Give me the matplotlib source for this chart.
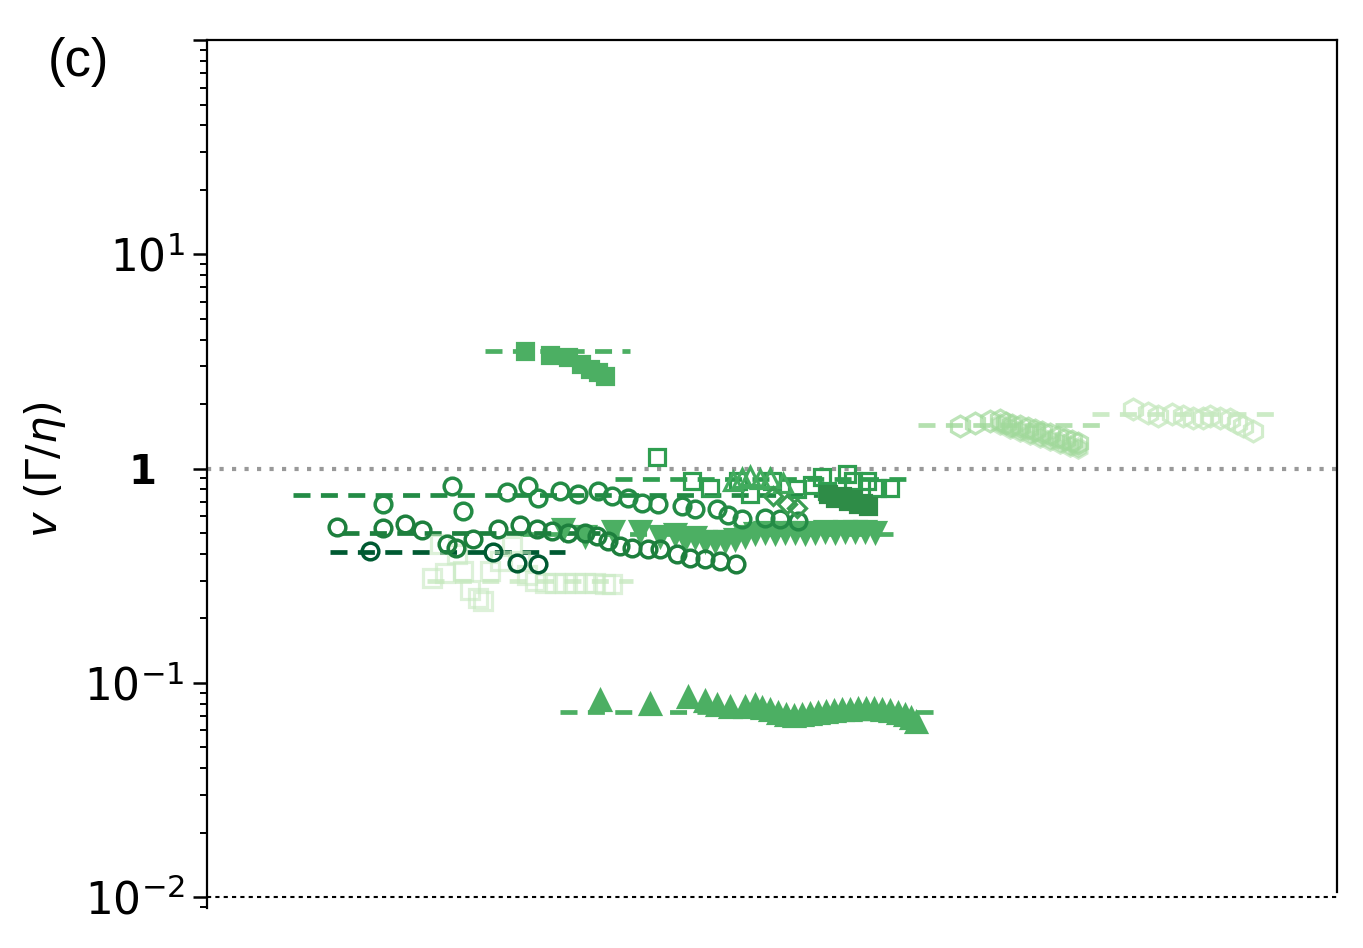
import matplotlib
matplotlib.use("Agg")
import matplotlib.pyplot as plt
from matplotlib.ticker import LogLocator, NullFormatter

plt.rcParams['font.family'] = ['DejaVu Sans']
plt.rcParams['mathtext.fontset'] = 'dejavusans'

# ---------------- data ----------------
# filled squares (high)
sqf_x = [31.8, 34.3, 36.1, 37.4, 38.3, 39.1, 39.8]
sqf_y = [3.52, 3.40, 3.30, 3.09, 2.93, 2.81, 2.69]
sqf_fit = (27.8, 42.3, 3.52)

# filled triangles up (low)
tru_x = [39.3, 44.3, 48.1, 49.8, 51.0, 52.3, 53.8, 54.8, 55.5, 56.3, 57.1, 57.9, 58.7,
         59.5, 60.3, 61.1, 61.9, 62.7, 63.5, 64.3, 65.1, 65.9, 66.7, 67.5, 68.3, 69.1,
         69.8, 70.4, 70.9]
tru_y = [0.0836, 0.0800, 0.0863, 0.0827, 0.0792, 0.0775, 0.0775, 0.0792, 0.0767, 0.0750,
         0.0727, 0.0711, 0.0704, 0.0711, 0.0719, 0.0727, 0.0735, 0.0743, 0.0750, 0.0750,
         0.0759, 0.0759, 0.0759, 0.0750, 0.0743, 0.0727, 0.0711, 0.0689, 0.0660]
tru_fit = (35.3, 72.8, 0.0735)

# filled triangles down
trd_x = [35.6, 37.8, 40.6, 43.3, 45.3, 46.8, 47.8, 48.8, 49.8, 50.8, 51.8, 52.8, 53.8,
         54.8, 55.8, 56.8, 57.8, 58.8, 59.8, 60.8, 61.8, 62.8, 63.8, 64.8, 65.8, 66.8]
trd_y = [0.525, 0.487, 0.514, 0.514, 0.487, 0.497, 0.471, 0.477, 0.461, 0.461, 0.461,
         0.471, 0.482, 0.503, 0.508, 0.503, 0.508, 0.508, 0.503, 0.508, 0.514, 0.508,
         0.514, 0.514, 0.514, 0.508]
trd_fit = (31.3, 68.6, 0.497)

# open circles, series a
ca_x = [17.6, 24.5, 25.6, 30.0, 32.1, 33.1, 35.3, 37.1, 39.1, 40.5, 42.1, 43.5, 45.1,
        47.5, 48.8, 51.0, 52.1, 53.5, 55.8, 57.3, 59.1]
ca_y = [0.687, 0.833, 0.637, 0.781, 0.833, 0.732, 0.789, 0.764, 0.789, 0.748, 0.732,
        0.694, 0.687, 0.672, 0.651, 0.651, 0.604, 0.584, 0.591, 0.584, 0.572]
ca_fit = (8.6, 63.0, 0.756)

# open circles, series b
cb_x = [13.0, 17.6, 19.8, 21.5, 24.0, 24.9, 26.6, 29.1, 31.3, 33.0, 34.5, 36.1, 37.8,
        39.0, 40.1, 41.3, 42.5, 44.1, 45.3, 47.0, 48.3, 49.8, 51.3, 52.9]
cb_y = [0.536, 0.530, 0.553, 0.519, 0.447, 0.428, 0.471, 0.525, 0.548, 0.525, 0.514,
        0.503, 0.503, 0.487, 0.461, 0.437, 0.428, 0.423, 0.423, 0.401, 0.384, 0.380,
        0.372, 0.360]
cb_fit = (13.5, 39.3, 0.503)

# open circles, series c
cc_x = [16.3, 28.6, 31.0, 33.1]
cc_y = [0.414, 0.406, 0.364, 0.360]
cc_fit = (12.3, 35.8, 0.406)

# open squares near 1
so_x = [45.0, 48.5, 50.3, 53.1, 54.3, 56.5, 59.0, 60.5, 61.5, 62.0, 64.0, 64.6, 66.0,
        67.0, 68.3]
so_y = [1.138, 0.879, 0.815, 0.879, 0.764, 0.879, 0.807, 0.842, 0.918, 0.789, 0.948,
        0.879, 0.879, 0.815, 0.815]
so_fit = (40.8, 70.3, 0.898)

# filled dark squares
sd_x = [62.1, 62.8, 63.5, 64.1, 64.6, 65.1, 65.6, 66.1]
sd_y = [0.764, 0.732, 0.748, 0.709, 0.724, 0.687, 0.694, 0.672]

# open triangles up and open diamonds
tuo_x = [52.6, 53.5, 54.3, 55.3, 56.3, 57.6]
tuo_y = [0.879, 0.908, 0.928, 0.898, 0.908, 0.860]
dmo_x = [56.6, 58.0, 59.0]
dmo_y = [0.748, 0.687, 0.658]

# light open squares
sl_x = [22.5, 23.3, 23.8, 25.0, 25.6, 26.3, 27.1, 27.6, 28.3, 29.3, 30.5, 31.3, 32.0,
        32.8, 33.8, 34.8, 35.8, 36.8, 37.8, 38.8, 39.8, 40.5]
sl_y = [0.310, 0.447, 0.327, 0.401, 0.334, 0.270, 0.250, 0.242, 0.334, 0.372, 0.437,
        0.372, 0.317, 0.300, 0.291, 0.291, 0.291, 0.294, 0.291, 0.291, 0.288, 0.288]
sl_fit = (22.0, 42.6, 0.300)

# hexagons a
ha_x = [75.3, 76.8, 78.3, 79.3, 79.9, 80.5, 81.3, 82.1, 82.8, 83.5, 84.3, 85.1, 85.8,
        86.5, 87.1]
ha_y = [1.587, 1.639, 1.675, 1.693, 1.639, 1.604, 1.587, 1.553, 1.520, 1.488, 1.457,
        1.411, 1.380, 1.351, 1.322]
ha_fit = (71.1, 89.6, 1.604)
hb2_x = [79.3, 80.3, 81.3, 82.3, 83.3, 84.3, 85.3, 86.3, 87.1]
hb2_y = [1.622, 1.553, 1.504, 1.457, 1.411, 1.366, 1.322, 1.280, 1.253]

# hexagons b
hb_x = [92.6, 94.1, 95.1, 96.5, 97.6, 98.6, 99.6, 100.3, 101.3, 102.3, 103.0, 103.6, 104.6]
hb_y = [1.905, 1.826, 1.768, 1.806, 1.768, 1.730, 1.730, 1.768, 1.730, 1.711, 1.639,
        1.587, 1.504]
hb_fit = (88.5, 107.5, 1.806)

# ---------------- figure ----------------
fig = plt.figure(figsize=(13.63, 9.48), dpi=100)
ax = fig.add_axes([207/1363, 1-908/948, 1130/1363, 868/948])
ax.set_yscale('log')
ax.set_xlim(0, 113)
ax.set_ylim(0.0089, 100)

dash = (0, (3.6, 2.2))
LW = 3.4

def fitline(fit, color, alpha=1.0, z=1):
    ax.plot([fit[0], fit[1]], [fit[2], fit[2]], ls=dash, lw=LW, color=color,
            alpha=alpha, zorder=z, dash_capstyle='butt')

def pts(x, y, marker, color, filled=False, ms=11.5, mew=2.3, alpha=1.0, z=3):
    ax.plot(x, y, ls='none', marker=marker, ms=ms, mew=mew,
            mfc=color if filled else 'none', mec=color, alpha=alpha, zorder=z)

ax.axhline(1.0, color='#999999', ls=(0, (1, 2)), lw=3, zorder=0.5)

c_med = '#4caf63'
c_a = '#238b45'
c_b = '#1d7f3d'
c_c = '#005a32'
c_sq = '#2f9e50'
c_sd = '#2e8c47'
c_light = '#c7e9c0'
c_hexa = '#a1d99b'
c_hexb = '#c7e9c0'

# light squares
fitline(sl_fit, c_light, alpha=0.8, z=1)
pts(sl_x, sl_y, 's', c_light, ms=12.5, mew=2.3, alpha=0.6, z=2)

fitline(sqf_fit, c_med)
pts(sqf_x, sqf_y, 's', c_med, filled=True, ms=12)

fitline(tru_fit, c_med)
pts(tru_x, tru_y, '^', c_med, filled=True, ms=14)

fitline(trd_fit, c_med)
pts(trd_x, trd_y, 'v', c_med, filled=True, ms=14)

fitline(ca_fit, c_a)
pts(ca_x, ca_y, 'o', c_a, ms=12, mew=2.5)

fitline(cb_fit, c_b)
pts(cb_x, cb_y, 'o', c_b, ms=12, mew=2.5)

fitline(cc_fit, c_c)
pts(cc_x, cc_y, 'o', c_c, ms=12, mew=2.5)

fitline(so_fit, c_sq)
pts(so_x, so_y, 's', c_sq, ms=11.5, mew=2.3)
pts(sd_x, sd_y, 's', c_sd, filled=True, ms=11.5)
pts(tuo_x, tuo_y, '^', '#41ab5d', ms=13, mew=2.3)
pts(dmo_x, dmo_y, 'D', '#3a9d52', ms=9.5, mew=2.3)

fitline(ha_fit, c_hexa, alpha=0.8)
pts(ha_x, ha_y, 'h', c_hexa, ms=15, mew=2.3, alpha=0.7)
pts(hb2_x, hb2_y, 'h', c_hexa, filled=True, ms=14, mew=2.3, alpha=0.5)

fitline(hb_fit, c_hexb, alpha=0.9)
pts(hb_x, hb_y, 'h', c_hexb, ms=15, mew=2.3, alpha=0.8)

# bottom dotted line
ax.axhline(0.01, color='black', ls=(0, (2, 2)), lw=1.5, zorder=0.5, clip_on=False)

# spines
for s in ['left', 'right', 'top']:
    ax.spines[s].set_linewidth(1.6)
ax.spines['bottom'].set_visible(False)
ax.spines['right'].set_bounds(0.0106, 100)

# ticks
ax.set_xticks([])
ax.set_yticks([1e-2, 1e-1, 1, 1e1, 1e2])
ax.set_yticklabels([r'$10^{-2}$', r'$10^{-1}$', '1  ', r'$10^{1}$', ''])
ax.yaxis.set_minor_locator(LogLocator(base=10, subs=range(2, 10), numticks=20))
ax.yaxis.set_minor_formatter(NullFormatter())
ax.tick_params(axis='y', which='major', length=10, width=1.8, labelsize=31.5, pad=6,
               direction='out', right=False)
ax.tick_params(axis='y', which='minor', length=5, width=1.4, direction='out', right=False)
lab1 = ax.get_yticklabels()[2]
lab1.set_fontweight('bold')
lab1.set_fontsize(29)

fig.text(0.033, 0.505, r'$v$ ($\Gamma/\eta$)', rotation=90, fontsize=31,
         ha='center', va='center')
fig.text(48/1363, 1-62/948, '(c)', fontsize=38, ha='left', va='center',
         family=['Liberation Sans', 'DejaVu Sans'])

fig.savefig('out.png', dpi=100)
